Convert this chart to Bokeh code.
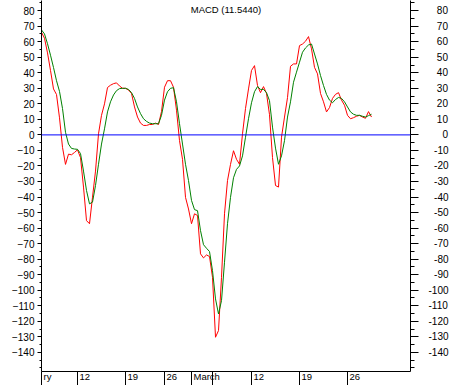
from bokeh.plotting import figure
from bokeh.models import Range1d, LinearAxis, FixedTicker, Span, Label, CustomJSTickFormatter
from bokeh.embed import file_html
from bokeh.resources import INLINE

# ---------------- data ----------------
title_text = "MACD (11.5440)"

macd = [66.1, 62.2, 52.8, 41.5, 29.6, 26.0, 11.0, -8.0, -19.0, -12.4,
        -12.8, -11.3, -9.6, -14.6, -33.6, -55.2, -57.2, -40.1, -23.3, 0.7,
        12.6, 20.0, 30.5, 32.0, 33.0, 33.5, 31.5, 30.0, 30.0, 28.9,
        26.7, 18.0, 11.5, 7.6, 6.1, 6.1, 6.7, 6.7, 7.6, 6.7,
        15.0, 30.7, 34.9, 34.9, 30.7, 15.9, -3.7, -15.7, -40.2, -47.7,
        -57.2, -50.8, -51.9, -76.6, -79.2, -77.3, -78.3, -91.7, -130.3, -126.0,
        -91.7, -50.8, -29.4, -19.0, -10.2, -15.7, -18.9, 0.7, 17.0, 29.6,
        41.5, 44.6, 31.8, 27.2, 31.1, 26.7, 13.0, -14.6, -32.6, -33.6,
        -1.5, 11.5, 24.0, 44.2, 45.7, 45.7, 57.5, 58.5, 60.3, 63.3,
        55.4, 43.5, 39.3, 26.7, 21.3, 14.8, 17.6, 23.5, 26.1, 27.2,
        22.4, 19.1, 12.6, 10.4, 11.1, 12.0, 12.6, 11.5, 10.7, 15.0,
        11.5]

signal = [67.6, 65.0, 58.7, 51.3, 43.4, 34.9, 28.0, 17.0, 1.7, -5.9,
          -8.7, -9.1, -9.3, -12.0, -23.3, -35.8, -44.4, -43.3, -32.6, -18.9,
          -5.9, 3.9, 14.8, 21.3, 25.7, 28.5, 29.8, 30.0, 30.0, 29.3,
          27.2, 23.5, 18.0, 13.7, 10.4, 8.7, 7.6, 7.2, 7.2, 7.2,
          12.6, 22.4, 27.8, 30.0, 30.4, 21.3, 7.2, -5.9, -18.9, -29.4,
          -42.2, -48.1, -48.8, -61.6, -70.7, -73.0, -75.1, -87.4, -105.6, -115.3,
          -106.7, -82.0, -57.2, -40.2, -27.6, -22.2, -20.0, -13.5, -1.5, 10.4,
          20.7, 27.8, 31.1, 29.3, 29.3, 27.2, 22.0, 5.0, -8.5, -18.9,
          -13.5, -3.7, 11.5, 21.3, 33.9, 40.4, 46.8, 53.2, 56.0, 57.9,
          58.5, 52.1, 45.7, 38.2, 31.8, 26.1, 22.4, 20.7, 22.8, 24.1,
          23.5, 21.3, 18.0, 14.8, 13.3, 12.6, 12.6, 12.0, 11.5, 12.4,
          13.3]

bars = list(range(len(macd)))

y_ticks = list(range(-140, 81, 10))
y_minor_ticks = list(range(-150, 86, 5))
x_tick_pos = [0, 12, 28, 41, 50, 57, 70, 86, 102]
x_tick_labels = ["ry", "12", "19", "26", "March", "", "12", "19", "26"]

# ---------------- figure ----------------
FONT = "Liberation Sans"
AX_FS = 10.0      # axis label font size, px
BOT_FS = 9.5      # date label font size, px
PX_PER_BAR = 3.0

p = figure(width=451, height=385, output_backend="svg", toolbar_location=None,
           x_range=Range1d(0, 123), y_range=Range1d(-152.35, 86.54),
           x_axis_location=None, y_axis_location=None,
           min_border_left=41, min_border_right=41,
           min_border_top=0, min_border_bottom=14)
p.outline_line_color = None
p.background_fill_color = "white"
p.border_fill_color = "white"
p.xgrid.visible = False
p.ygrid.visible = False


def yaxis(tick_out, minor_out, standoff, formatter=None):
    ax = LinearAxis(ticker=FixedTicker(ticks=y_ticks, minor_ticks=y_minor_ticks),
                    major_tick_out=tick_out, major_tick_in=0,
                    minor_tick_out=minor_out, minor_tick_in=0,
                    major_label_standoff=standoff,
                    major_label_text_font=FONT,
                    major_label_text_font_size=f"{AX_FS}px",
                    major_label_text_color="black",
                    axis_line_color="black",
                    major_tick_line_color="black",
                    minor_tick_line_color="black")
    if formatter is not None:
        ax.formatter = formatter
    return ax


p.add_layout(yaxis(4, 2, 3), "left")

# right-hand labels are right aligned: pad with no-break spaces to a common width
right_fmt = CustomJSTickFormatter(code="""
    const s = String(Math.round(tick));
    let w = 0;
    for (const c of s) { w += (c == "-") ? 0.333 : 0.556; }
    const n = Math.max(0, Math.round((2.0 - w) / 0.278));
    return "\\u00a0".repeat(n) + s;
""")
p.add_layout(yaxis(8, 4, 10, right_fmt), "right")

# date axis: tick marks are drawn as (long) minor ticks, labels sit just right of them
em = {"r": 0.333, "y": 0.5, "M": 0.833, "a": 0.556, "c": 0.5, "h": 0.556}
def text_px(s):
    return sum(em.get(ch, 0.556) for ch in s) * BOT_FS

shown = [(t, s) for t, s in zip(x_tick_pos, x_tick_labels) if s]
label_pos = [t + (2 + text_px(s) / 2) / PX_PER_BAR for t, s in shown]
label_txt = [s for _, s in shown]

xax = LinearAxis(ticker=FixedTicker(ticks=label_pos, minor_ticks=x_tick_pos),
                 formatter=CustomJSTickFormatter(args=dict(labels=label_txt),
                                                 code="return labels[index]"),
                 major_tick_out=0, major_tick_in=0,
                 minor_tick_out=14, minor_tick_in=0,
                 major_tick_line_color=None,
                 minor_tick_line_color="black",
                 major_label_standoff=-15,
                 major_label_text_font=FONT,
                 major_label_text_font_size=f"{BOT_FS}px",
                 major_label_text_color="black",
                 axis_line_color="black")
p.add_layout(xax, "below")

p.line(bars, macd, line_color="#FF0000", line_width=1)
p.line(bars, signal, line_color="#008000", line_width=1)

p.add_layout(Span(location=0, dimension="width", line_color="#0000FF", line_width=1))

p.add_layout(Label(x=(p.x_range.start + p.x_range.end) / 2, y=80.75, text=title_text,
                   text_align="center", text_baseline="middle",
                   text_font=FONT, text_font_size="9.5px", text_color="black"))

html = file_html(p, INLINE)
html = html.replace("<head>", "<head><style>html, body {margin:0; padding:0; overflow:hidden;}</style>", 1)
open("out.html", "w").write(html)
